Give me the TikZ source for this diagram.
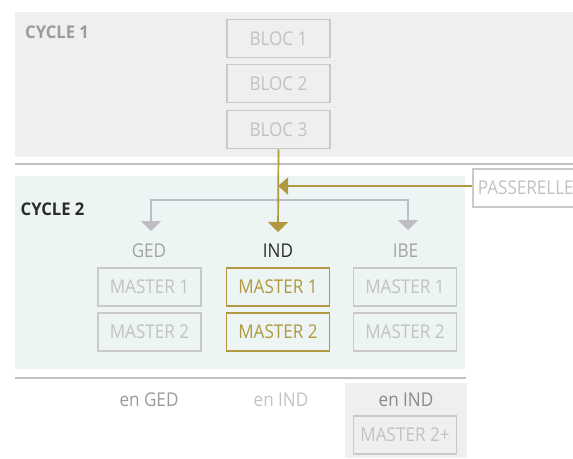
\documentclass[tikz,border=0pt]{standalone}
\usepackage{fontspec}
\usetikzlibrary{arrows.meta}
\newfontfamily\mainf[FakeStretch=0.9]{Open Sans}
\newfontfamily\boldf[FakeStretch=0.95]{Open Sans Bold}
\definecolor{topbg}{HTML}{EEEFF1}
\definecolor{cbg}{HTML}{ECF5F3}
\definecolor{boxgray}{HTML}{C9C9C9}
\definecolor{textlight}{HTML}{C2C2C2}
\definecolor{gold}{HTML}{B0993F}
\definecolor{cyconegray}{HTML}{9B9B9B}
\definecolor{lblgray}{HTML}{A3A3A3}
\definecolor{darktext}{HTML}{2B2B2B}
\definecolor{arrgray}{HTML}{BDBDC2}
\definecolor{sepgray}{HTML}{C0C0C4}
\tikzset{
  lbl/.style={inner sep=0pt, text height=13.5pt, text depth=0pt, font=\mainf\fontsize{19}{19}\selectfont},
  blk/.style={lbl, draw=boxgray, line width=1.7pt, minimum width=103pt, minimum height=38pt, text=textlight},
  goldblk/.style={blk, draw=gold, text=gold},
  cyc/.style={inner sep=0pt, anchor=base west, font=\boldf\fontsize{17.5}{17.5}\selectfont},
  grayarr/.style={draw=arrgray, line width=1.5pt, -{Triangle[length=10pt,width=20pt]}},
  goldarr/.style={draw=gold, line width=1.7pt, -{Triangle[length=10pt,width=20pt]}},
  goldarrh/.style={draw=gold, line width=1.7pt, -{Triangle[length=10pt,width=17pt]}},
  sep/.style={draw=sepgray, line width=2pt}
}
\begin{document}
\begin{tikzpicture}[x=1pt,y=-1pt]
\useasboundingbox (0,0) rectangle (573,458);
\clip (0,0) rectangle (573,458);
% backgrounds
\fill[topbg] (15,12) rectangle (573,157);
\fill[cbg] (15,176) rectangle (465,369);
\fill[topbg] (345,383) rectangle (467,458);
% separators
\coordinate (s1a) at (15,163.5);
\coordinate (s1b) at (573,163.5);
\draw[sep] (s1a) -- (s1b);
\coordinate (s2a) at (15,377.5);
\coordinate (s2b) at (466,377.5);
\draw[sep] (s2a) -- (s2b);
% cycle labels
\node[cyc, text=cyconegray] (cyc1) at (25,38) {CYCLE 1};
\node[cyc, text=darktext] (cyc2) at (20.5,215) {CYCLE 2};
% blocs
\node[blk] (b1) at (278.5,38.5) {BLOC 1};
\node[blk] (b2) at (278.5,83.5) {BLOC 2};
\node[blk] (b3) at (278.5,129.5) {BLOC 3};
% passerelle
\node[blk, anchor=west, minimum width=110pt, inner xsep=5pt, text width=100pt, align=left] (pass) at (472,188) {PASSERELLE};
% labels
\node[lbl, text=lblgray] (ged) at (149,251) {GED};
\node[lbl, text=darktext] (ind) at (278,250.5) {IND};
\node[lbl, text=lblgray] (ibe) at (405.5,251) {IBE};
% masters
\node[blk] (g1) at (149.5,287) {MASTER 1};
\node[blk] (g2) at (149.5,332) {MASTER 2};
\node[goldblk] (i1) at (278,287) {MASTER 1};
\node[goldblk] (i2) at (278,332) {MASTER 2};
\node[blk] (e1) at (405,287) {MASTER 1};
\node[blk] (e2) at (405,332) {MASTER 2};
% bottom row
\node[lbl, text=lblgray!95!black] (enged) at (149,400) {en GED};
\node[lbl, text=textlight] (enind) at (281,400) {en IND};
\node[lbl, text=lblgray!85!black] (enind2) at (406,400) {en IND};
\node[blk] (m2p) at (405,435) {MASTER 2+};
% connectors
\coordinate (j) at (278,200);
\coordinate (gedtip) at (151,231);
\coordinate (ibetip) at (408,230);
\coordinate (indtip) at (278,232);
\coordinate (goldj) at (278,186);
\draw[grayarr] (j) -| (gedtip);
\draw[grayarr] (j) -| (ibetip);
\draw[goldarr] (b3.south) -- (indtip);
\draw[goldarrh] (pass.west |- goldj) -- (goldj);
\end{tikzpicture}
\end{document}
